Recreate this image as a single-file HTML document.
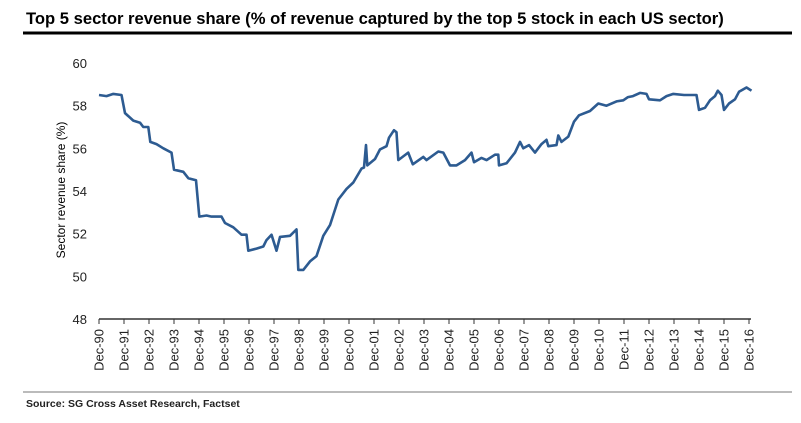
<!DOCTYPE html>
<html><head><meta charset="utf-8"><style>
body{margin:0;background:#fff;font-family:"Liberation Sans",Arial,sans-serif;}
svg{display:block}
</style></head><body>
<svg id="chart" width="801" height="423" viewBox="0 0 801 423">
<text x="26" y="24" font-size="16.6" font-weight="bold" fill="#000">Top 5 sector revenue share (% of revenue captured by the top 5 stock in each US sector)</text>
<line x1="23" y1="33" x2="792" y2="33" stroke="#000" stroke-width="3"/>
<line x1="23" y1="392" x2="792" y2="392" stroke="#777" stroke-width="1"/>
<text x="26" y="407" font-size="10.5" font-weight="bold" fill="#222">Source: SG Cross Asset Research, Factset</text>
<text transform="translate(65,190) rotate(-90)" text-anchor="middle" font-size="12" fill="#000">Sector revenue share (%)</text>
<g id="axes"></g>
<path id="series" fill="none" stroke="#2d5b91" stroke-width="2.6" stroke-linejoin="round"/>
</svg>
<script>
const yTicks=[48,50,52,54,56,58,60];
const xLabels=["Dec-90","Dec-91","Dec-92","Dec-93","Dec-94","Dec-95","Dec-96","Dec-97","Dec-98","Dec-99","Dec-00","Dec-01","Dec-02","Dec-03","Dec-04","Dec-05","Dec-06","Dec-07","Dec-08","Dec-09","Dec-10","Dec-11","Dec-12","Dec-13","Dec-14","Dec-15","Dec-16"];
// years since Dec-90
const dates=[0,0.3,0.57,0.9,1.04,1.37,1.64,1.77,1.97,2.05,2.3,2.57,2.9,3.0,3.37,3.57,3.88,4.01,4.3,4.5,4.9,5.04,5.37,5.7,5.9,5.97,6.3,6.57,6.7,6.9,7.1,7.24,7.64,7.9,7.97,8.17,8.44,8.7,8.97,9.24,9.57,9.9,10.17,10.5,10.6,10.68,10.73,11.04,11.24,11.5,11.6,11.8,11.9,11.97,12.37,12.55,12.97,13.1,13.57,13.77,14.04,14.3,14.64,14.9,15.0,15.3,15.5,15.84,15.97,16.0,16.3,16.64,16.84,16.97,17.2,17.44,17.7,17.9,17.97,18.3,18.37,18.5,18.77,19.0,19.2,19.64,19.97,20.3,20.7,20.97,21.16,21.36,21.64,21.9,22.0,22.44,22.7,22.97,23.4,23.7,23.9,24.0,24.24,24.44,24.64,24.75,24.9,25.0,25.2,25.44,25.6,25.9,26.1];
const values=[58.5,58.45,58.55,58.5,57.65,57.3,57.2,57.0,57.0,56.3,56.2,56.0,55.8,55.0,54.9,54.6,54.5,52.8,52.85,52.8,52.8,52.5,52.3,51.95,51.95,51.2,51.3,51.4,51.7,51.95,51.2,51.85,51.9,52.2,50.3,50.3,50.7,50.95,51.9,52.4,53.6,54.1,54.4,55.05,55.1,56.15,55.2,55.5,55.95,56.1,56.5,56.85,56.75,55.45,55.8,55.25,55.6,55.45,55.85,55.8,55.2,55.2,55.45,55.8,55.35,55.55,55.45,55.7,55.7,55.2,55.3,55.8,56.3,56.0,56.15,55.8,56.2,56.4,56.1,56.15,56.6,56.3,56.55,57.25,57.55,57.75,58.1,58.0,58.2,58.25,58.4,58.45,58.6,58.55,58.3,58.25,58.45,58.55,58.5,58.5,58.5,57.8,57.9,58.25,58.45,58.7,58.5,57.8,58.1,58.3,58.65,58.85,58.7];
const X0=99,X1=749,Y0=319,Y1=63;
const xs=t=>X0+(X1-X0)*t/26;
const ys=v=>Y0-(Y0-Y1)*(v-48)/12;
const NS="http://www.w3.org/2000/svg";
const ax=document.getElementById('axes');
function mk(tag,attrs,txt){const e=document.createElementNS(NS,tag);for(const k in attrs)e.setAttribute(k,attrs[k]);if(txt!==undefined)e.textContent=txt;ax.appendChild(e);return e;}
const axl=mk('line',{x1:X0,y1:Y0,x2:X1+2,y2:Y0,stroke:'#333','stroke-width':1.5});


yTicks.forEach(v=>{
  const t=mk('text',{x:87,y:ys(v)+5,'text-anchor':'end','font-size':13,fill:'#222'},String(v));
  
  
});
xLabels.forEach((l,i)=>{
  const x=xs(i);
  const tk=mk('line',{x1:x,y1:Y0,x2:x,y2:Y0+5,stroke:'#333','stroke-width':1});
  
  
  const t=mk('text',{transform:`translate(${x+4.5},${Y0+10}) rotate(-90)`,'text-anchor':'end','font-size':13,fill:'#222'},l);
  
  
});
document.getElementById('series').setAttribute('d',dates.map((t,i)=>(i?'L':'M')+xs(t).toFixed(1)+' '+ys(values[i]).toFixed(1)).join(' '));
</script>
</body></html>
